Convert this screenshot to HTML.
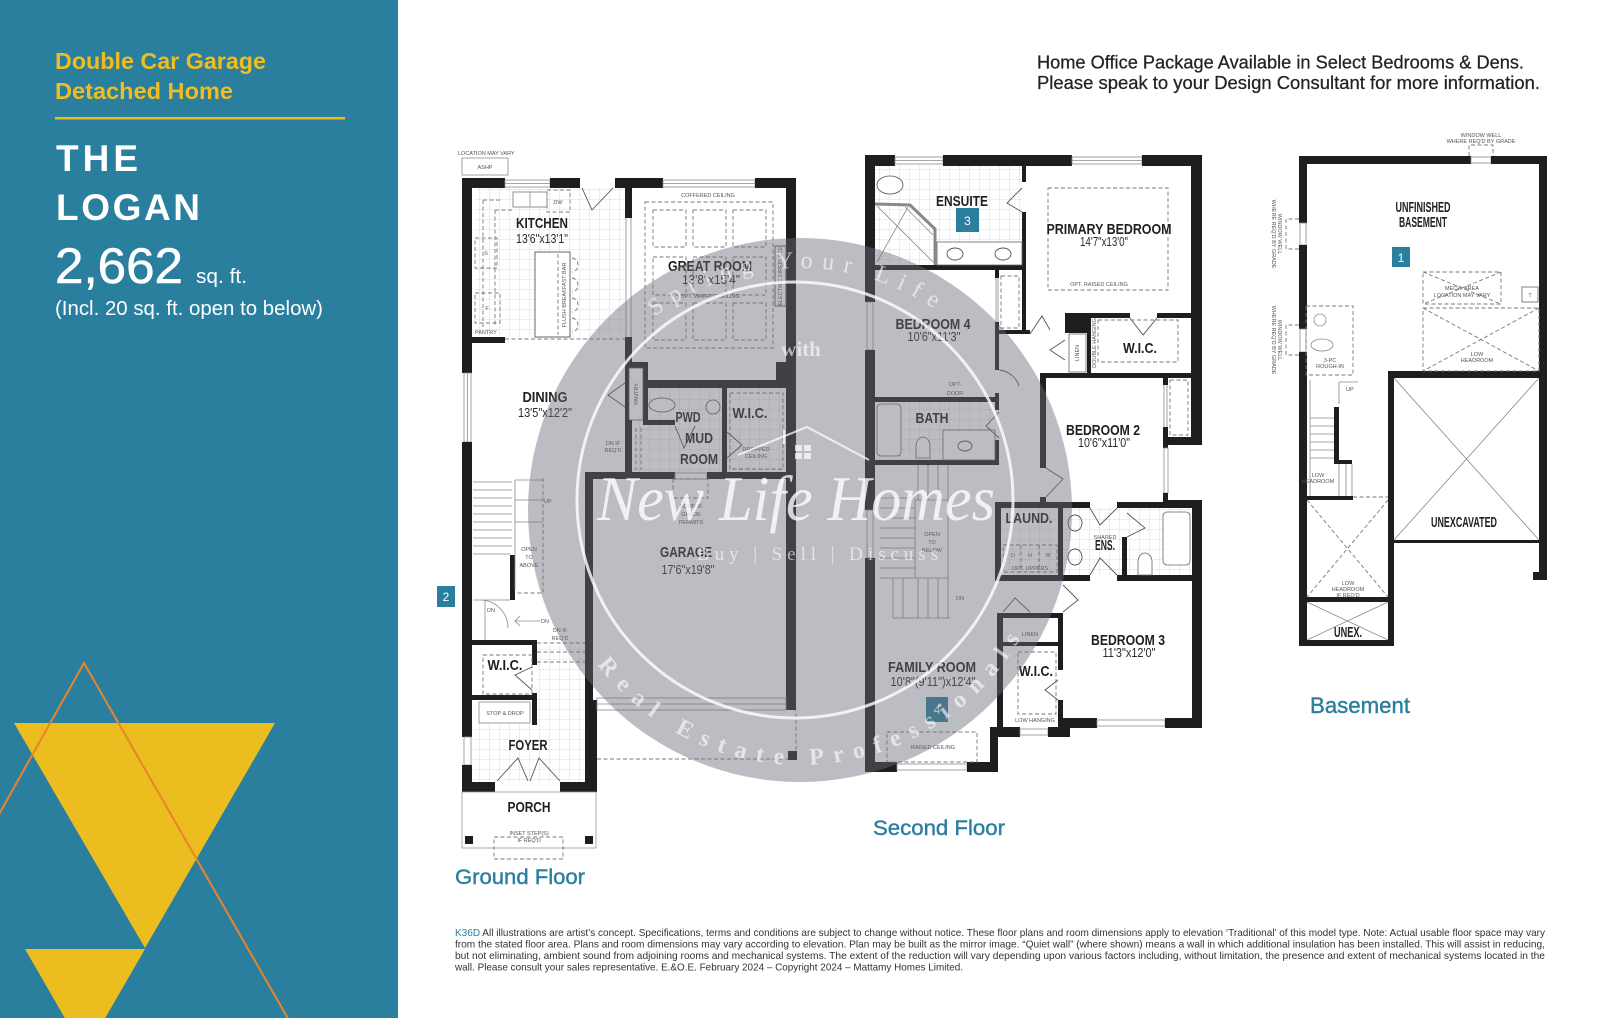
<!DOCTYPE html>
<html><head><meta charset="utf-8">
<style>
html,body{margin:0;padding:0;background:#fff;}
svg{display:block}
.w{fill:#1e1e1e}
.win{fill:#fff;stroke:#8c8c8c;stroke-width:.8}
.tl{fill:none;stroke:#8a8a8a;stroke-width:.8}
.tk{fill:none;stroke:#555;stroke-width:.9}
.ds{fill:none;stroke:#7a7a7a;stroke-width:.9;stroke-dasharray:4 2.5}
.lb{font-family:"Liberation Sans",sans-serif;font-weight:bold;fill:#1f1f1f;font-size:15px}
.dm{font-family:"Liberation Sans",sans-serif;fill:#2a2a2a;font-size:12.5px}
.tn{font-family:"Liberation Sans",sans-serif;fill:#555;font-size:5.5px}
.ss{font-family:"Liberation Sans",sans-serif}
.sf{font-family:"Liberation Serif",serif;fill:#fff}
</style></head><body>
<svg width="1600" height="1018" viewBox="0 0 1600 1018" xmlns="http://www.w3.org/2000/svg">
<defs>
<pattern id="tile" width="10" height="10" patternUnits="userSpaceOnUse"><path d="M10 0V10H0" fill="none" stroke="#d2d2d2" stroke-width=".8"/></pattern>
<path id="arcTop" d="M558,510 A242,242 0 0 1 1042,510"/>
<path id="arcBot" d="M545,510 A255,255 0 0 0 1055,510"/>
</defs>
<rect width="1600" height="1018" fill="#fff"/>

<!-- LEFT PANEL -->
<rect x="0" y="0" width="398" height="1018" fill="#2a7f9f"/>
<polygon points="14,723 275,723 145,948" fill="#ebbd1f"/>
<polygon points="25,949 145,949 85,1053" fill="#ebbd1f"/>
<polyline points="-20,848 84,663 290,1022" fill="none" stroke="#e8852b" stroke-width="2"/>
<text class="ss" x="55" y="69" font-size="23" font-weight="bold" fill="#efbd1f" textLength="211" lengthAdjust="spacingAndGlyphs">Double Car Garage</text>
<text class="ss" x="55" y="99" font-size="23" font-weight="bold" fill="#efbd1f" textLength="178" lengthAdjust="spacingAndGlyphs">Detached Home</text>
<rect x="55" y="117" width="290" height="2.5" fill="#efbd1f"/>
<text class="ss" x="56" y="171" font-size="37" font-weight="bold" fill="#fff" textLength="82" lengthAdjust="spacing">THE</text>
<text class="ss" x="56" y="220" font-size="37" font-weight="bold" fill="#fff" textLength="144" lengthAdjust="spacing">LOGAN</text>
<text class="ss" x="55" y="283" font-size="50" fill="#fff" stroke="#fff" stroke-width=".6" textLength="128" lengthAdjust="spacingAndGlyphs">2,662</text>
<text class="ss" x="196" y="283" font-size="20" fill="#fff" textLength="51" lengthAdjust="spacingAndGlyphs">sq. ft.</text>
<text class="ss" x="55" y="315" font-size="20.5" fill="#fff" textLength="268" lengthAdjust="spacingAndGlyphs">(Incl. 20 sq. ft. open to below)</text>

<!-- HEADER -->
<text class="ss" x="1037" y="68.5" font-size="18" fill="#222" stroke="#222" stroke-width=".25" textLength="487" lengthAdjust="spacingAndGlyphs">Home Office Package Available in Select Bedrooms &amp; Dens.</text>
<text class="ss" x="1037" y="89" font-size="18" fill="#222" stroke="#222" stroke-width=".25" textLength="503" lengthAdjust="spacingAndGlyphs">Please speak to your Design Consultant for more information.</text>

<!-- ================= GROUND FLOOR ================= -->
<rect x="475" y="188" width="150" height="149" fill="url(#tile)"/>
<rect x="632" y="388" width="154" height="84" fill="url(#tile)"/>
<rect x="537" y="645" width="48" height="137" fill="url(#tile)"/>
<rect x="472" y="723" width="65" height="59" fill="url(#tile)"/>
<text class="tn" x="458" y="155">LOCATION MAY VARY</text>
<rect x="462" y="158" width="46" height="17" class="win"/>
<text class="tn" x="485" y="169" text-anchor="middle">ASHP</text>
<!-- outer walls -->
<rect class="w" x="462" y="178" width="43" height="10"/>
<rect class="win" x="505" y="180" width="45" height="7"/><line class="tl" x1="505" y1="183.5" x2="550" y2="183.5"/>
<rect class="w" x="550" y="178" width="30" height="10"/>
<polyline class="tk" points="582,188 592,210 613,188"/>
<rect class="w" x="615" y="178" width="48" height="10"/>
<rect class="win" x="663" y="180" width="92" height="7"/><line class="tl" x1="663" y1="183.5" x2="755" y2="183.5"/>
<rect class="w" x="755" y="178" width="41" height="10"/>
<rect class="w" x="462" y="178" width="10" height="195"/>
<rect class="win" x="464" y="373" width="7" height="69"/><line class="tl" x1="467.5" y1="373" x2="467.5" y2="442"/>
<rect class="w" x="462" y="442" width="10" height="295"/>
<rect class="win" x="464" y="737" width="7" height="28"/>
<rect class="w" x="462" y="765" width="10" height="27"/>
<rect class="w" x="462" y="782" width="33" height="10"/>
<rect class="w" x="560" y="782" width="37" height="10"/>
<rect class="w" x="786" y="178" width="10" height="532"/>
<!-- interior -->
<rect class="w" x="625" y="188" width="7" height="30"/>
<line class="tl" x1="626" y1="218" x2="626" y2="337"/><line class="tl" x1="631" y1="218" x2="631" y2="337"/>
<rect class="w" x="625" y="337" width="7" height="135"/>
<rect class="w" x="472" y="337" width="33" height="6"/>
<line class="ds" x1="505" y1="339" x2="625" y2="339"/>
<rect class="w" x="625" y="362" width="23" height="6"/>
<rect class="w" x="643" y="380" width="153" height="8"/>
<rect class="w" x="776" y="362" width="20" height="26"/>
<rect class="w" x="643" y="367" width="5" height="58"/>
<rect class="w" x="643" y="420" width="32" height="5"/>
<rect class="w" x="722" y="388" width="5" height="84"/>
<rect class="w" x="585" y="472" width="90" height="7"/>
<rect x="675" y="473" width="32" height="6" class="win"/>
<rect class="w" x="707" y="472" width="89" height="7"/>
<rect class="w" x="585" y="472" width="8" height="228"/>
<rect class="w" x="585" y="700" width="12" height="92"/>
<rect class="w" x="510" y="555" width="5" height="45"/>
<rect class="w" x="472" y="640" width="65" height="5"/>
<rect class="w" x="532" y="640" width="5" height="25"/>
<rect class="w" x="472" y="695" width="65" height="5"/>
<rect class="w" x="532" y="693" width="5" height="32"/>
<!-- kitchen -->
<rect x="513" y="192" width="34" height="15" fill="#fff" stroke="#777" stroke-width=".8"/>
<line class="tl" x1="530" y1="192" x2="530" y2="207"/>
<rect x="547" y="190" width="23" height="22" class="ds"/>
<text class="tn" x="558" y="204" text-anchor="middle">DW</text>
<path class="ds" d="M483,200 H502 M483,200 V327 M495,210 V327 M495,210 H513"/>
<rect x="475" y="238" width="22" height="30" class="ds" fill="#fff"/>
<text class="tn" x="486" y="255" text-anchor="middle">S</text>
<rect x="475" y="293" width="25" height="30" class="ds" fill="#fff"/>
<text class="tn" x="487" y="310" text-anchor="middle">F</text>
<text class="tn" x="475" y="334">PANTRY</text>
<rect x="535" y="252" width="35" height="85" fill="#fff" stroke="#555" stroke-width=".9"/>
<line class="ds" x1="558" y1="254" x2="558" y2="335"/>
<text class="tn" transform="translate(566,295) rotate(-90)" text-anchor="middle">FLUSH BREAKFAST BAR</text>
<path class="ds" d="M572,258 a6,7 0 0 1 0,14 M572,278 a6,7 0 0 1 0,14 M572,298 a6,7 0 0 1 0,14 M572,318 a6,7 0 0 1 0,14"/>
<text class="lb" x="542" y="228" text-anchor="middle" textLength="52" lengthAdjust="spacingAndGlyphs">KITCHEN</text>
<text class="dm" x="542" y="243" text-anchor="middle" textLength="52" lengthAdjust="spacingAndGlyphs">13'6"x13'1"</text>
<!-- great room -->
<text class="tn" x="708" y="197" text-anchor="middle">COFFERED CEILING</text>
<rect x="645" y="202" width="128" height="146" class="ds"/>
<rect x="653" y="210" width="33" height="37" class="ds"/><rect x="693" y="210" width="33" height="37" class="ds"/><rect x="733" y="210" width="33" height="37" class="ds"/>
<rect x="653" y="257" width="33" height="38" class="ds"/><rect x="693" y="257" width="33" height="38" class="ds"/><rect x="733" y="257" width="33" height="38" class="ds"/>
<rect x="653" y="303" width="33" height="37" class="ds"/><rect x="693" y="303" width="33" height="37" class="ds"/><rect x="733" y="303" width="33" height="37" class="ds"/>
<rect x="775" y="246" width="11" height="60" fill="#fff" stroke="#555" stroke-width=".9"/>
<text class="tn" transform="translate(782,276) rotate(-90)" text-anchor="middle">ELECTRIC FIREPLACE</text>
<text class="lb" x="710" y="271" text-anchor="middle" textLength="84" lengthAdjust="spacingAndGlyphs">GREAT ROOM</text>
<text class="dm" x="711" y="284" text-anchor="middle" textLength="58" lengthAdjust="spacingAndGlyphs">13'8"x15'4"</text>
<text class="tn" x="710" y="298" text-anchor="middle">OPT. WAFFLE CEILING</text>
<!-- dining -->
<text class="lb" x="545" y="402" text-anchor="middle" textLength="45" lengthAdjust="spacingAndGlyphs">DINING</text>
<text class="dm" x="545" y="417" text-anchor="middle" textLength="54" lengthAdjust="spacingAndGlyphs">13'5"x12'2"</text>
<!-- pantry / pwd / mud / wic -->
<rect x="629" y="368" width="14" height="52" fill="#fff" stroke="#555" stroke-width=".8"/>
<text class="tn" transform="translate(638,394) rotate(-90)" text-anchor="middle">PANTRY</text>
<polyline class="tk" points="625,383 608,395 625,407"/>
<ellipse cx="662" cy="405" rx="13" ry="7" fill="#fff" stroke="#555" stroke-width=".8"/>
<circle cx="713" cy="407" r="7" fill="#fff" stroke="#555" stroke-width=".8"/>
<rect x="730" y="393" width="53" height="76" class="ds"/>
<polyline class="tk" points="675,426 684,448 695,426"/>
<polyline class="tk" points="727,432 742,445 727,458"/>
<path class="ds" d="M636,428 V470 M641,428 V470"/>
<text class="tn" x="613" y="445" text-anchor="middle">DN IF</text>
<text class="tn" x="613" y="452" text-anchor="middle">REQ'D</text>
<text class="lb" x="688" y="422" text-anchor="middle" textLength="25" lengthAdjust="spacingAndGlyphs">PWD</text>
<text class="lb" x="750" y="418" text-anchor="middle" textLength="35" lengthAdjust="spacingAndGlyphs">W.I.C.</text>
<text class="lb" x="699" y="443" text-anchor="middle" textLength="28" lengthAdjust="spacingAndGlyphs">MUD</text>
<text class="lb" x="699" y="464" text-anchor="middle" textLength="38" lengthAdjust="spacingAndGlyphs">ROOM</text>
<text class="tn" x="756" y="451" text-anchor="middle">DROPPED</text>
<text class="tn" x="756" y="458" text-anchor="middle">CEILING</text>
<!-- garage -->
<rect x="673" y="479" width="35" height="19" class="ds"/>
<text class="tn" x="691" y="508" text-anchor="middle">DOOR IF</text>
<text class="tn" x="691" y="516" text-anchor="middle">GRADE</text>
<text class="tn" x="691" y="524" text-anchor="middle">PERMITS</text>
<text class="lb" x="686" y="557" text-anchor="middle" textLength="52" lengthAdjust="spacingAndGlyphs">GARAGE</text>
<text class="dm" x="688" y="574" text-anchor="middle" textLength="53" lengthAdjust="spacingAndGlyphs">17'6"x19'8"</text>
<rect x="597" y="698" width="189" height="12" fill="#fff" stroke="#888" stroke-width=".8"/>
<line class="tl" x1="597" y1="704" x2="786" y2="704"/>
<path class="ds" d="M597,759 H796 V710"/>
<rect class="w" x="788" y="751" width="9" height="9"/>
<!-- stairs -->
<path class="tl" d="M473,482H512M473,490H512M473,498H512M473,506H512M473,514H512M473,522H512M473,530H512M473,538H512M473,546H512M473,554H510M515,480V590M515,480H543M515,500H543M515,522H543"/>
<path class="ds" d="M543,478 V593 H515"/>
<text class="tn" x="544" y="503">UP</text>
<text class="tn" x="529" y="551" text-anchor="middle">OPEN</text>
<text class="tn" x="529" y="559" text-anchor="middle">TO</text>
<text class="tn" x="529" y="567" text-anchor="middle">ABOVE</text>
<path class="tl" d="M473,600H510M485,600V640M480,600 a28,28 0 0 1 28,28"/>
<text class="tn" x="491" y="612" text-anchor="middle">DN</text>
<path class="tl" d="M515,621H540M520,616L515,621L520,626"/>
<text class="tn" x="541" y="623">DN</text>
<text class="tn" x="560" y="632" text-anchor="middle">DN IF</text>
<text class="tn" x="560" y="640" text-anchor="middle">REQ'D</text>
<path class="ds" d="M537,643H585M537,652H585M537,662H585"/>
<!-- wic / foyer -->
<rect x="483" y="655" width="49" height="39" class="ds"/>
<polyline class="tk" points="532,667 515,675 532,690"/>
<rect x="479" y="702" width="51" height="21" fill="#fff" stroke="#888" stroke-width=".8"/>
<text class="tn" x="505" y="715" text-anchor="middle">STOP &amp; DROP</text>
<text class="lb" x="505" y="670" text-anchor="middle" textLength="35" lengthAdjust="spacingAndGlyphs">W.I.C.</text>
<text class="lb" x="528" y="750" text-anchor="middle" textLength="39" lengthAdjust="spacingAndGlyphs">FOYER</text>
<polyline class="tk" points="497,781 518,758 528,781"/>
<polyline class="tk" points="530,781 539,758 560,781"/>
<!-- porch -->
<rect x="462" y="792" width="134" height="56" fill="none" stroke="#999" stroke-width=".8"/>
<rect class="w" x="465" y="836" width="8" height="8"/>
<rect class="w" x="585" y="836" width="8" height="8"/>
<rect x="494" y="837" width="69" height="22" class="ds"/>
<text class="lb" x="529" y="812" text-anchor="middle" textLength="43" lengthAdjust="spacingAndGlyphs">PORCH</text>
<text class="tn" x="529" y="835" text-anchor="middle">INSET STEP(S)</text>
<text class="tn" x="529" y="842" text-anchor="middle">IF REQ'D</text>
<rect x="437" y="586" width="18" height="21" fill="#2a7f9f"/>
<text class="ss" x="446" y="601" fill="#fff" font-size="12" text-anchor="middle">2</text>

<!-- ================= SECOND FLOOR ================= -->
<rect x="875" y="166" width="147" height="99" fill="url(#tile)"/>
<rect x="875" y="402" width="120" height="58" fill="url(#tile)"/>
<rect x="1001" y="508" width="57" height="67" fill="url(#tile)"/>
<rect x="1063" y="508" width="127" height="67" fill="url(#tile)"/>
<rect class="w" x="865" y="155" width="30" height="11"/>
<rect class="win" x="895" y="157" width="48" height="7"/><line class="tl" x1="895" y1="160.5" x2="943" y2="160.5"/>
<rect class="w" x="943" y="155" width="129" height="11"/>
<rect class="win" x="1072" y="157" width="70" height="7"/><line class="tl" x1="1072" y1="160.5" x2="1142" y2="160.5"/>
<rect class="w" x="1142" y="155" width="60" height="11"/>
<rect class="w" x="1191" y="155" width="11" height="290"/>
<rect class="w" x="1163" y="437" width="39" height="8"/>
<rect class="w" x="1163" y="375" width="5" height="10"/>
<path class="tl" d="M1164,385V430M1167,385V430"/>
<rect class="ds" x="1170" y="380" width="18" height="55"/>
<rect class="w" x="1163" y="427" width="5" height="21"/>
<rect class="win" x="1164" y="448" width="4" height="45"/>
<rect class="w" x="1163" y="493" width="5" height="12"/>
<rect class="w" x="1163" y="500" width="39" height="8"/>
<rect class="w" x="1192" y="500" width="10" height="228"/>
<rect class="w" x="1060" y="718" width="37" height="10"/>
<rect class="win" x="1097" y="720" width="68" height="6"/>
<rect class="w" x="1165" y="718" width="37" height="10"/>
<rect class="w" x="1060" y="718" width="10" height="19"/>
<rect class="w" x="990" y="727" width="30" height="10"/>
<rect class="win" x="1020" y="729" width="28" height="6"/>
<rect class="w" x="1048" y="727" width="22" height="10"/>
<rect class="w" x="990" y="727" width="8" height="45"/>
<rect class="w" x="865" y="762" width="32" height="10"/>
<rect class="win" x="897" y="764" width="70" height="6"/>
<rect class="w" x="967" y="762" width="31" height="10"/>
<rect class="w" x="865" y="155" width="10" height="147"/>
<rect class="win" x="867" y="302" width="6" height="48"/>
<rect class="w" x="865" y="350" width="10" height="160"/>
<rect class="win" x="867" y="510" width="6" height="48"/>
<rect class="w" x="865" y="558" width="10" height="214"/>
<!-- interior -->
<rect class="w" x="1022" y="166" width="4" height="16"/>
<rect class="w" x="1022" y="212" width="4" height="58"/>
<rect class="w" x="875" y="265" width="151" height="5"/>
<rect class="w" x="995" y="270" width="4" height="8"/>
<path class="tl" d="M996,278V322M998,278V322"/>
<rect class="ds" x="1001" y="276" width="18" height="52"/>
<rect class="w" x="995" y="322" width="4" height="48"/>
<rect class="w" x="995" y="393" width="4" height="9"/>
<rect class="w" x="1022" y="270" width="4" height="63"/>
<rect class="w" x="995" y="330" width="35" height="4"/>
<rect class="w" x="875" y="397" width="124" height="5"/>
<rect class="w" x="995" y="402" width="4" height="8"/>
<rect class="w" x="995" y="440" width="4" height="25"/>
<rect class="w" x="875" y="460" width="124" height="5"/>
<rect class="w" x="1065" y="313" width="22" height="20"/>
<rect class="w" x="1087" y="313" width="43" height="5"/>
<rect class="w" x="1157" y="313" width="35" height="5"/>
<rect class="w" x="1087" y="318" width="4" height="55"/>
<rect class="w" x="1040" y="373" width="152" height="5"/>
<rect class="w" x="1040" y="373" width="6" height="95"/>
<rect class="w" x="1040" y="497" width="6" height="8"/>
<rect class="w" x="995" y="502" width="95" height="6"/>
<rect class="w" x="1117" y="502" width="46" height="6"/>
<rect class="w" x="995" y="502" width="6" height="78"/>
<rect class="w" x="1058" y="502" width="5" height="78"/>
<rect class="w" x="1122" y="537" width="5" height="43"/>
<rect class="w" x="995" y="575" width="95" height="6"/>
<rect class="w" x="1117" y="575" width="85" height="6"/>
<rect class="w" x="997" y="613" width="6" height="114"/>
<rect class="w" x="997" y="613" width="63" height="5"/>
<rect class="w" x="1003" y="642" width="57" height="4"/>
<rect class="w" x="1058" y="613" width="5" height="57"/>
<rect class="w" x="1058" y="700" width="5" height="27"/>
<!-- ensuite -->
<ellipse cx="890" cy="185" rx="13" ry="9" fill="#fff" stroke="#555" stroke-width=".8"/>
<path d="M875,204 L910,205 L935,229 L935,265" fill="none" stroke="#888" stroke-width="3"/>
<path class="tl" d="M877,206 L933,262 M877,262 L908,207 M905,207 L933,235"/>
<rect x="937" y="242" width="85" height="23" fill="#fff" stroke="#666" stroke-width=".8"/>
<ellipse cx="955" cy="254" rx="8" ry="6" class="tk"/>
<ellipse cx="1003" cy="254" rx="8" ry="6" class="tk"/>
<polyline class="tk" points="1022,188 1007,203 1022,212"/>
<text class="lb" x="962" y="206" text-anchor="middle" textLength="52" lengthAdjust="spacingAndGlyphs">ENSUITE</text>
<rect x="956" y="208" width="23" height="24" fill="#2a7f9f"/>
<text class="ss" x="967.5" y="225" fill="#fff" font-size="12" text-anchor="middle">3</text>
<!-- primary -->
<rect x="1048" y="188" width="120" height="102" class="ds"/>
<text class="lb" x="1109" y="234" text-anchor="middle" textLength="125" lengthAdjust="spacingAndGlyphs">PRIMARY BEDROOM</text>
<text class="dm" x="1104" y="246" text-anchor="middle" textLength="48" lengthAdjust="spacingAndGlyphs">14'7"x13'0"</text>
<text class="tn" x="1099" y="286" text-anchor="middle">OPT. RAISED CEILING</text>
<polyline class="tk" points="1130,318 1143,335 1157,318"/>
<rect x="1098" y="320" width="80" height="42" class="ds"/>
<text class="lb" x="1140" y="353" text-anchor="middle" textLength="34" lengthAdjust="spacingAndGlyphs">W.I.C.</text>
<text class="tn" transform="translate(1096,343) rotate(-90)" text-anchor="middle">DOUBLE HANGING</text>
<rect x="1069" y="334" width="17" height="38" fill="#fff" stroke="#666" stroke-width=".8"/>
<text class="tn" transform="translate(1079,353) rotate(-90)" text-anchor="middle">LINEN</text>
<polyline class="tk" points="1065,340 1050,350 1065,360"/>
<polyline class="tk" points="1030,334 1042,316 1050,330"/>
<!-- bedroom 4 / bath -->
<text class="lb" x="933" y="329" text-anchor="middle" textLength="75" lengthAdjust="spacingAndGlyphs">BEDROOM 4</text>
<text class="dm" x="934" y="341" text-anchor="middle" textLength="53" lengthAdjust="spacingAndGlyphs">10'6"x11'3"</text>
<path class="tk" d="M999,370 a23,23 0 0 1 20,16"/>
<text class="tn" x="955" y="386" text-anchor="middle">OPT.</text>
<text class="tn" x="955" y="395" text-anchor="middle">DOOR</text>
<rect x="877" y="404" width="24" height="52" rx="4" fill="#fff" stroke="#666" stroke-width=".8"/>
<path d="M916,458 V446 a7,9 0 0 1 14,0 V458 Z" fill="#fff" stroke="#666" stroke-width=".8"/>
<rect x="943" y="430" width="52" height="30" fill="#fff" stroke="#666" stroke-width=".8"/>
<ellipse cx="965" cy="446" rx="7" ry="5" class="tk"/>
<polyline class="tk" points="999,412 986,426 999,438"/>
<text class="lb" x="932" y="423" text-anchor="middle" textLength="33" lengthAdjust="spacingAndGlyphs">BATH</text>
<!-- bedroom 2 -->
<text class="lb" x="1103" y="435" text-anchor="middle" textLength="74" lengthAdjust="spacingAndGlyphs">BEDROOM 2</text>
<text class="dm" x="1104" y="447" text-anchor="middle" textLength="52" lengthAdjust="spacingAndGlyphs">10'6"x11'0"</text>
<path class="tk" d="M1046,468 L1063,479 L1046,497"/>
<!-- laundry / shared ens -->
<rect x="1003" y="545" width="54" height="27" class="ds"/>
<path class="ds" d="M1021,545V572M1039,545V572"/>
<text class="tn" x="1013" y="557" text-anchor="middle">D</text>
<text class="tn" x="1030" y="557" text-anchor="middle">H</text>
<text class="tn" x="1048" y="557" text-anchor="middle">W</text>
<text class="tn" x="1030" y="570" text-anchor="middle">OPT. UPPERS</text>
<text class="lb" x="1029" y="523" text-anchor="middle" textLength="47" lengthAdjust="spacingAndGlyphs">LAUND.</text>
<ellipse cx="1075" cy="523" rx="7" ry="8" class="tk"/>
<ellipse cx="1075" cy="557" rx="7" ry="8" class="tk"/>
<polyline class="tk" points="1090,508 1100,525 1117,508"/>
<polyline class="tk" points="1090,575 1100,558 1117,575"/>
<polyline class="tk" points="1127,513 1145,528 1127,537"/>
<path d="M1138,575 V562 a7,9 0 0 1 14,0 V575 Z" fill="#fff" stroke="#666" stroke-width=".8"/>
<rect x="1163" y="512" width="27" height="53" rx="4" fill="#fff" stroke="#666" stroke-width=".8"/>
<text class="tn" x="1105" y="539" text-anchor="middle">SHARED</text>
<text class="lb" x="1105" y="550" text-anchor="middle" font-size="13" textLength="20" lengthAdjust="spacingAndGlyphs">ENS.</text>
<!-- family room stairs -->
<path class="tl" d="M915,500 H948 V578 H915 Z M880,498H915M880,508H915M880,518H915M880,528H915M880,538H915M880,548H915M880,558H915M880,568H915M880,578H915M893,578V618M903,578V618M918,578V618M928,578V618M938,578V618M948,578V618M893,618H950M918,465V500M928,465V500M938,465V500M948,465V500"/>
<text class="tn" x="932" y="536" text-anchor="middle">OPEN</text>
<text class="tn" x="932" y="544" text-anchor="middle">TO</text>
<text class="tn" x="932" y="552" text-anchor="middle">BELOW</text>
<text class="tn" x="956" y="600">DN</text>
<polyline class="tk" points="1003,612 1015,598 1030,612"/>
<polyline class="tk" points="1063,585 1078,600 1063,612"/>
<text class="tn" x="1030" y="636" text-anchor="middle">LINEN</text>
<rect x="1018" y="652" width="38" height="62" class="ds"/>
<polyline class="tk" points="1058,680 1045,690 1058,700"/>
<text class="lb" x="1036" y="676" text-anchor="middle" textLength="34" lengthAdjust="spacingAndGlyphs">W.I.C.</text>
<text class="tn" x="1035" y="722" text-anchor="middle">LOW HANGING</text>
<text class="lb" x="1128" y="645" text-anchor="middle" textLength="74" lengthAdjust="spacingAndGlyphs">BEDROOM 3</text>
<text class="dm" x="1129" y="657" text-anchor="middle" textLength="53" lengthAdjust="spacingAndGlyphs">11'3"x12'0"</text>
<text class="lb" x="932" y="672" text-anchor="middle" textLength="88" lengthAdjust="spacingAndGlyphs">FAMILY ROOM</text>
<text class="dm" x="933" y="686" text-anchor="middle" textLength="85" lengthAdjust="spacingAndGlyphs">10'8"(9'11")x12'4"</text>
<rect x="926" y="697" width="22" height="25" fill="#2a7f9f"/>
<text class="ss" x="937" y="714" fill="#fff" font-size="12" text-anchor="middle">4</text>
<rect x="887" y="732" width="90" height="30" class="ds"/>
<text class="tn" x="933" y="749" text-anchor="middle">RAISED CEILING</text>

<!-- ================= BASEMENT ================= -->
<text class="tn" x="1481" y="137" text-anchor="middle">WINDOW WELL</text>
<text class="tn" x="1481" y="143" text-anchor="middle">WHERE REQ'D BY GRADE</text>
<path class="ds" d="M1469,156 V145 H1493 V156"/>
<path class="ds" d="M1299,219 H1286 V249 H1299 M1299,325 H1286 V355 H1299"/>
<text class="tn" transform="translate(1278,234) rotate(90)" text-anchor="middle">WINDOW WELL</text>
<text class="tn" transform="translate(1272,234) rotate(90)" text-anchor="middle">WHERE REQ'D BY GRADE</text>
<text class="tn" transform="translate(1278,340) rotate(90)" text-anchor="middle">WINDOW WELL</text>
<text class="tn" transform="translate(1272,340) rotate(90)" text-anchor="middle">WHERE REQ'D BY GRADE</text>
<rect class="w" x="1299" y="156" width="172" height="8"/>
<rect class="win" x="1471" y="157" width="20" height="6"/>
<rect class="w" x="1491" y="156" width="56" height="8"/>
<rect class="w" x="1299" y="156" width="8" height="67"/>
<rect class="win" x="1300" y="223" width="6" height="22"/>
<rect class="w" x="1299" y="245" width="8" height="84"/>
<rect class="win" x="1300" y="329" width="6" height="23"/>
<rect class="w" x="1299" y="352" width="8" height="293"/>
<rect class="w" x="1539" y="156" width="8" height="424"/>
<rect class="w" x="1533" y="572" width="14" height="8"/>
<rect class="w" x="1388" y="371" width="159" height="7"/>
<rect class="w" x="1388" y="371" width="6" height="274"/>
<rect class="w" x="1394" y="540" width="145" height="3"/>
<rect class="w" x="1299" y="597" width="95" height="5"/>
<rect class="w" x="1299" y="640" width="95" height="6"/>
<rect class="w" x="1305" y="496" width="48" height="4"/>
<rect class="w" x="1334" y="407" width="5" height="57"/>
<rect class="w" x="1334" y="460" width="18" height="4"/>
<path class="tl" d="M1394,378 L1539,540 M1539,378 L1394,540 M1307,602 L1388,640 M1388,602 L1307,640"/>
<path class="ds" d="M1307,500 L1388,597 M1388,500 L1307,597 M1353,497 H1388"/>
<rect x="1423" y="272" width="78" height="32" class="ds"/>
<path class="ds" d="M1423,272 L1501,304 M1501,272 L1423,304"/>
<rect x="1423" y="308" width="116" height="63" class="ds"/>
<path class="ds" d="M1423,308 L1539,371 M1539,308 L1423,371"/>
<rect x="1522" y="287" width="16" height="15" fill="#fff" stroke="#777" stroke-width=".9"/>
<text class="tn" x="1530" y="297" text-anchor="middle">T</text>
<rect x="1306" y="306" width="47" height="69" class="ds"/>
<circle cx="1320" cy="320" r="6" class="tl"/>
<ellipse cx="1322" cy="345" rx="11" ry="6" class="tl"/>
<text class="tn" x="1330" y="362" text-anchor="middle">3-PC</text>
<text class="tn" x="1330" y="368" text-anchor="middle">ROUGH-IN</text>
<path class="tl" d="M1310,380V496M1310,418H1334M1310,426H1334M1310,434H1334M1310,442H1334M1310,450H1334M1310,458H1334M1339,382H1358M1339,382V404M1339,464V496M1346,464V496M1352,464V496"/>
<text class="tn" x="1346" y="391">UP</text>
<text class="tn" x="1318" y="477" text-anchor="middle">LOW</text>
<text class="tn" x="1318" y="483" text-anchor="middle">HEADROOM</text>
<text class="tn" x="1348" y="585" text-anchor="middle">LOW</text>
<text class="tn" x="1348" y="591" text-anchor="middle">HEADROOM</text>
<text class="tn" x="1348" y="597" text-anchor="middle">IF REQ'D</text>
<text class="tn" x="1477" y="356" text-anchor="middle">LOW</text>
<text class="tn" x="1477" y="362" text-anchor="middle">HEADROOM</text>
<text class="tn" x="1462" y="290" text-anchor="middle">MECH. AREA</text>
<text class="tn" x="1462" y="297" text-anchor="middle">LOCATION MAY VARY</text>
<text class="lb" x="1423" y="212" font-size="12" text-anchor="middle" textLength="55" lengthAdjust="spacingAndGlyphs">UNFINISHED</text>
<text class="lb" x="1423" y="227" font-size="12" text-anchor="middle" textLength="48" lengthAdjust="spacingAndGlyphs">BASEMENT</text>
<rect x="1392" y="247" width="18" height="20" fill="#2a7f9f"/>
<text class="ss" x="1401" y="262" fill="#fff" font-size="12" text-anchor="middle">1</text>
<text class="lb" x="1464" y="527" font-size="12" text-anchor="middle" textLength="66" lengthAdjust="spacingAndGlyphs">UNEXCAVATED</text>
<text class="lb" x="1348" y="637" font-size="12" text-anchor="middle" textLength="28" lengthAdjust="spacingAndGlyphs">UNEX.</text>

<!-- FLOOR TITLES -->
<text class="ss" x="455" y="884" font-size="21" fill="#2a7f9f" stroke="#2a7f9f" stroke-width=".4" textLength="130" lengthAdjust="spacingAndGlyphs">Ground Floor</text>
<text class="ss" x="873" y="835" font-size="21" fill="#2a7f9f" stroke="#2a7f9f" stroke-width=".4" textLength="132" lengthAdjust="spacingAndGlyphs">Second Floor</text>
<text class="ss" x="1310" y="713" font-size="22" fill="#2a7f9f" stroke="#2a7f9f" stroke-width=".4" textLength="100" lengthAdjust="spacingAndGlyphs">Basement</text>

<!-- WATERMARK -->
<circle cx="800" cy="510" r="272" fill="#6b6d78" fill-opacity=".45"/>
<circle cx="795" cy="500" r="218" fill="none" stroke="#fff" stroke-opacity=".8" stroke-width="3"/>
<text class="sf" font-size="24" fill-opacity=".6" letter-spacing="6"><textPath href="#arcTop" startOffset="224" textLength="304" lengthAdjust="spacing">Spring Your Life</textPath></text>
<text class="sf" font-size="24" font-weight="bold" fill-opacity=".6"><textPath href="#arcBot" startOffset="166" textLength="500" lengthAdjust="spacing">Real Estate Professionals</textPath></text>
<text class="sf" x="801" y="356" font-size="21" font-weight="bold" fill-opacity=".6" text-anchor="middle">with</text>
<polyline points="738,455 807,427 869,460" fill="none" stroke="#fff" stroke-opacity=".75" stroke-width="2"/>
<line x1="784" y1="430" x2="784" y2="444" stroke="#fff" stroke-opacity=".75" stroke-width="2"/>
<rect x="795" y="445" width="7" height="6" fill="#fff" fill-opacity=".7"/><rect x="804" y="445" width="7" height="6" fill="#fff" fill-opacity=".7"/>
<rect x="795" y="453" width="7" height="6" fill="#fff" fill-opacity=".7"/><rect x="804" y="453" width="7" height="6" fill="#fff" fill-opacity=".7"/>
<text class="sf" x="597" y="520" font-size="64" font-style="italic" fill-opacity=".78" textLength="398" lengthAdjust="spacingAndGlyphs">New Life Homes</text>
<text class="sf" x="697" y="560" font-size="19" fill-opacity=".6" textLength="241" lengthAdjust="spacing">Buy | Sell | Discuss</text>

<!-- FOOTER -->
<g class="ss" font-size="10.5" fill="#333">
<text x="455" y="936" textLength="1090" lengthAdjust="spacingAndGlyphs"><tspan fill="#2a7f9f">K36D</tspan> All illustrations are artist’s concept. Specifications, terms and conditions are subject to change without notice. These floor plans and room dimensions apply to elevation ‘Traditional’ of this model type. Note: Actual usable floor space may vary</text>
<text x="455" y="947.5" textLength="1090" lengthAdjust="spacingAndGlyphs">from the stated floor area. Plans and room dimensions may vary according to elevation. Plan may be built as the mirror image. “Quiet wall” (where shown) means a wall in which additional insulation has been installed. This will assist in reducing,</text>
<text x="455" y="959" textLength="1090" lengthAdjust="spacingAndGlyphs">but not eliminating, ambient sound from adjoining rooms and mechanical systems. The extent of the reduction will vary depending upon various factors including, without limitation, the presence and extent of mechanical systems located in the</text>
<text x="455" y="970.5" textLength="508" lengthAdjust="spacingAndGlyphs">wall. Please consult your sales representative. E.&amp;O.E. February 2024 – Copyright 2024 – Mattamy Homes Limited.</text>
</g>
</svg>
</body></html>
